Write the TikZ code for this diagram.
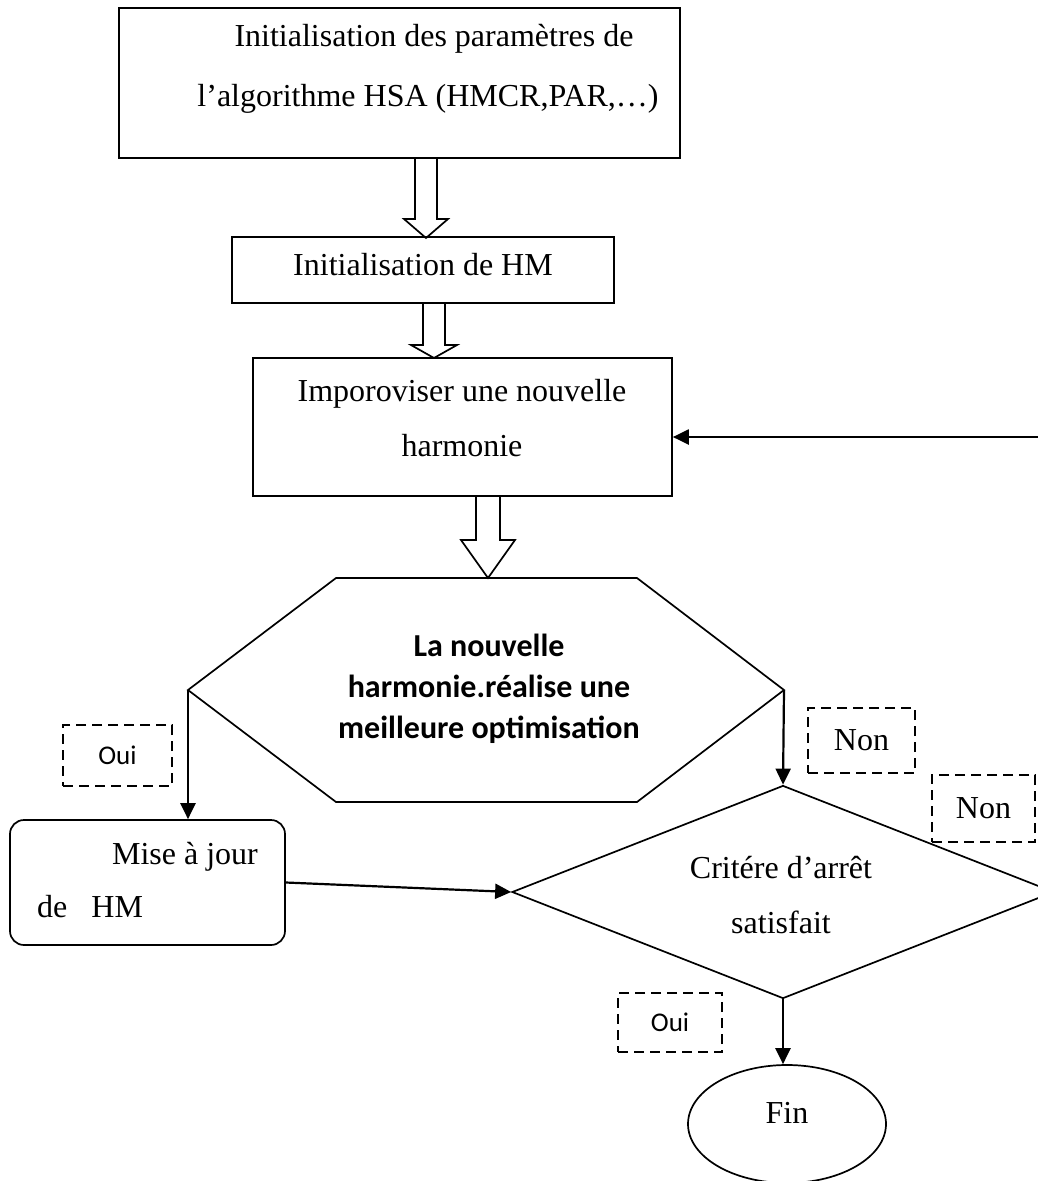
\documentclass[tikz,border=0pt]{standalone}
\usepackage{fontspec}
\setmainfont{Liberation Serif}
\newfontfamily\calib{Carlito}
\usetikzlibrary{shapes.geometric,arrows.meta}
\newcommand{\hollowarr}[6]{% x, ytop, ybase, ytip, shafthalf, headhalf
  \draw[hollow] ({#1-#5},#2) -- ({#1-#5},#3) -- ({#1-#6},#3) -- (#1,#4) -- ({#1+#6},#3) -- ({#1+#5},#3) -- ({#1+#5},#2);}
\begin{document}
\begin{tikzpicture}[x=1pt,y=-1pt,
  box/.style={draw,line width=1.7pt,inner sep=0pt,rectangle},
  txt/.style={inner sep=0pt,anchor=base,font=\fontsize{32}{38}\selectfont},
  btxt/.style={inner sep=0pt,anchor=base,font=\calib\bfseries\fontsize{32}{38}\selectfont},
  dbox/.style={draw,line width=2pt,dash pattern=on 10pt off 6pt,inner sep=0pt},
  arr/.style={line width=2.2pt,-{Triangle[length=16pt,width=15pt]}},
  hollow/.style={draw,line width=1.7pt,line join=miter}
]
\useasboundingbox (0,0) rectangle (1038,1181);
\fill[white] (0,0) rectangle (1038,1181);

% boxes
\node[box,minimum width=561pt,minimum height=150pt] (b1) at (399.5,83) {};
\node[txt] (t1a) at (434,46) {Initialisation des paramètres de};
\node[txt] (t1b) at (428,106) {l’algorithme HSA (HMCR,PAR,…)};

\node[box,minimum width=382pt,minimum height=66pt] (b2) at (423,270) {};
\node[txt] (t2) at (423,275) {Initialisation de HM};

\node[box,minimum width=419pt,minimum height=138pt] (b3) at (462.5,427) {};
\node[txt] (t3a) at (462,401) {Imporoviser une nouvelle};
\node[txt] (t3b) at (462,456) {harmonie};

% hollow arrows
\hollowarr{426}{159}{219}{238}{11}{22}
\hollowarr{434}{303}{345}{358}{11}{23}
\hollowarr{488}{496}{540}{578}{12}{27}

% hexagon
\coordinate (hA) at (336,578);
\coordinate (hB) at (637,578);
\coordinate (hR) at (784,690);
\coordinate (hC) at (637,802);
\coordinate (hD) at (336,802);
\coordinate (hL) at (188,690);
\draw[line width=1.7pt] (hA) -- (hB) -- (hR) -- (hC) -- (hD) -- (hL) -- cycle;
\node[btxt] (h1) at (489,656) {La nouvelle};
\node[btxt] (h2) at (489,697) {harmonie.réalise une};
\node[btxt] (h3) at (489,738) {meilleure optimisation};

% mise a jour
\node[box,rounded corners=14pt,minimum width=275pt,minimum height=125pt] (mise) at (147.5,882.5) {};
\node[txt] (m1) at (185,864) {Mise à jour};
\node[txt,anchor=base west] (m2) at (37,917) {de\ \ \ HM};

% diamond
\node[draw,diamond,line width=1.7pt,minimum width=542pt,minimum height=213pt,inner sep=0pt] (crit) at (783,892) {};
\node[txt] (c1) at (781,878) {Critére d’arrêt};
\node[txt] (c2) at (781,933) {satisfait};

% ellipse
\node[draw,ellipse,line width=1.7pt,minimum width=198pt,minimum height=118pt,inner sep=0pt] (fin) at (787,1124) {};
\node[txt] (f1) at (787,1123) {Fin};

% dashed labels
\node[dbox,minimum width=109pt,minimum height=61pt,font=\calib\fontsize{27}{32}\selectfont] (oui1) at (117.5,755.5) {Oui};
\node[dbox,minimum width=107pt,minimum height=65pt,font=\fontsize{32}{38}\selectfont] (non1) at (861.5,740.5) {Non};
\node[dbox,minimum width=103pt,minimum height=67pt,font=\fontsize{32}{38}\selectfont] (non2) at (983.5,808.5) {Non};
\node[dbox,minimum width=104pt,minimum height=59pt,font=\calib\fontsize{27}{32}\selectfont] (oui2) at (670,1022.5) {Oui};

% connectors
\draw[arr] (hL) -- (hL |- mise.north);
\draw[arr] (hR) -- (crit.north);
\draw[arr] (mise.east) -- (crit.west);
\draw[arr] (crit.south) -- (crit.south |- fin.north);
\coordinate (fb) at (1038,437);
\draw[arr] (fb) -- (fb -| b3.east);
\end{tikzpicture}
\end{document}
